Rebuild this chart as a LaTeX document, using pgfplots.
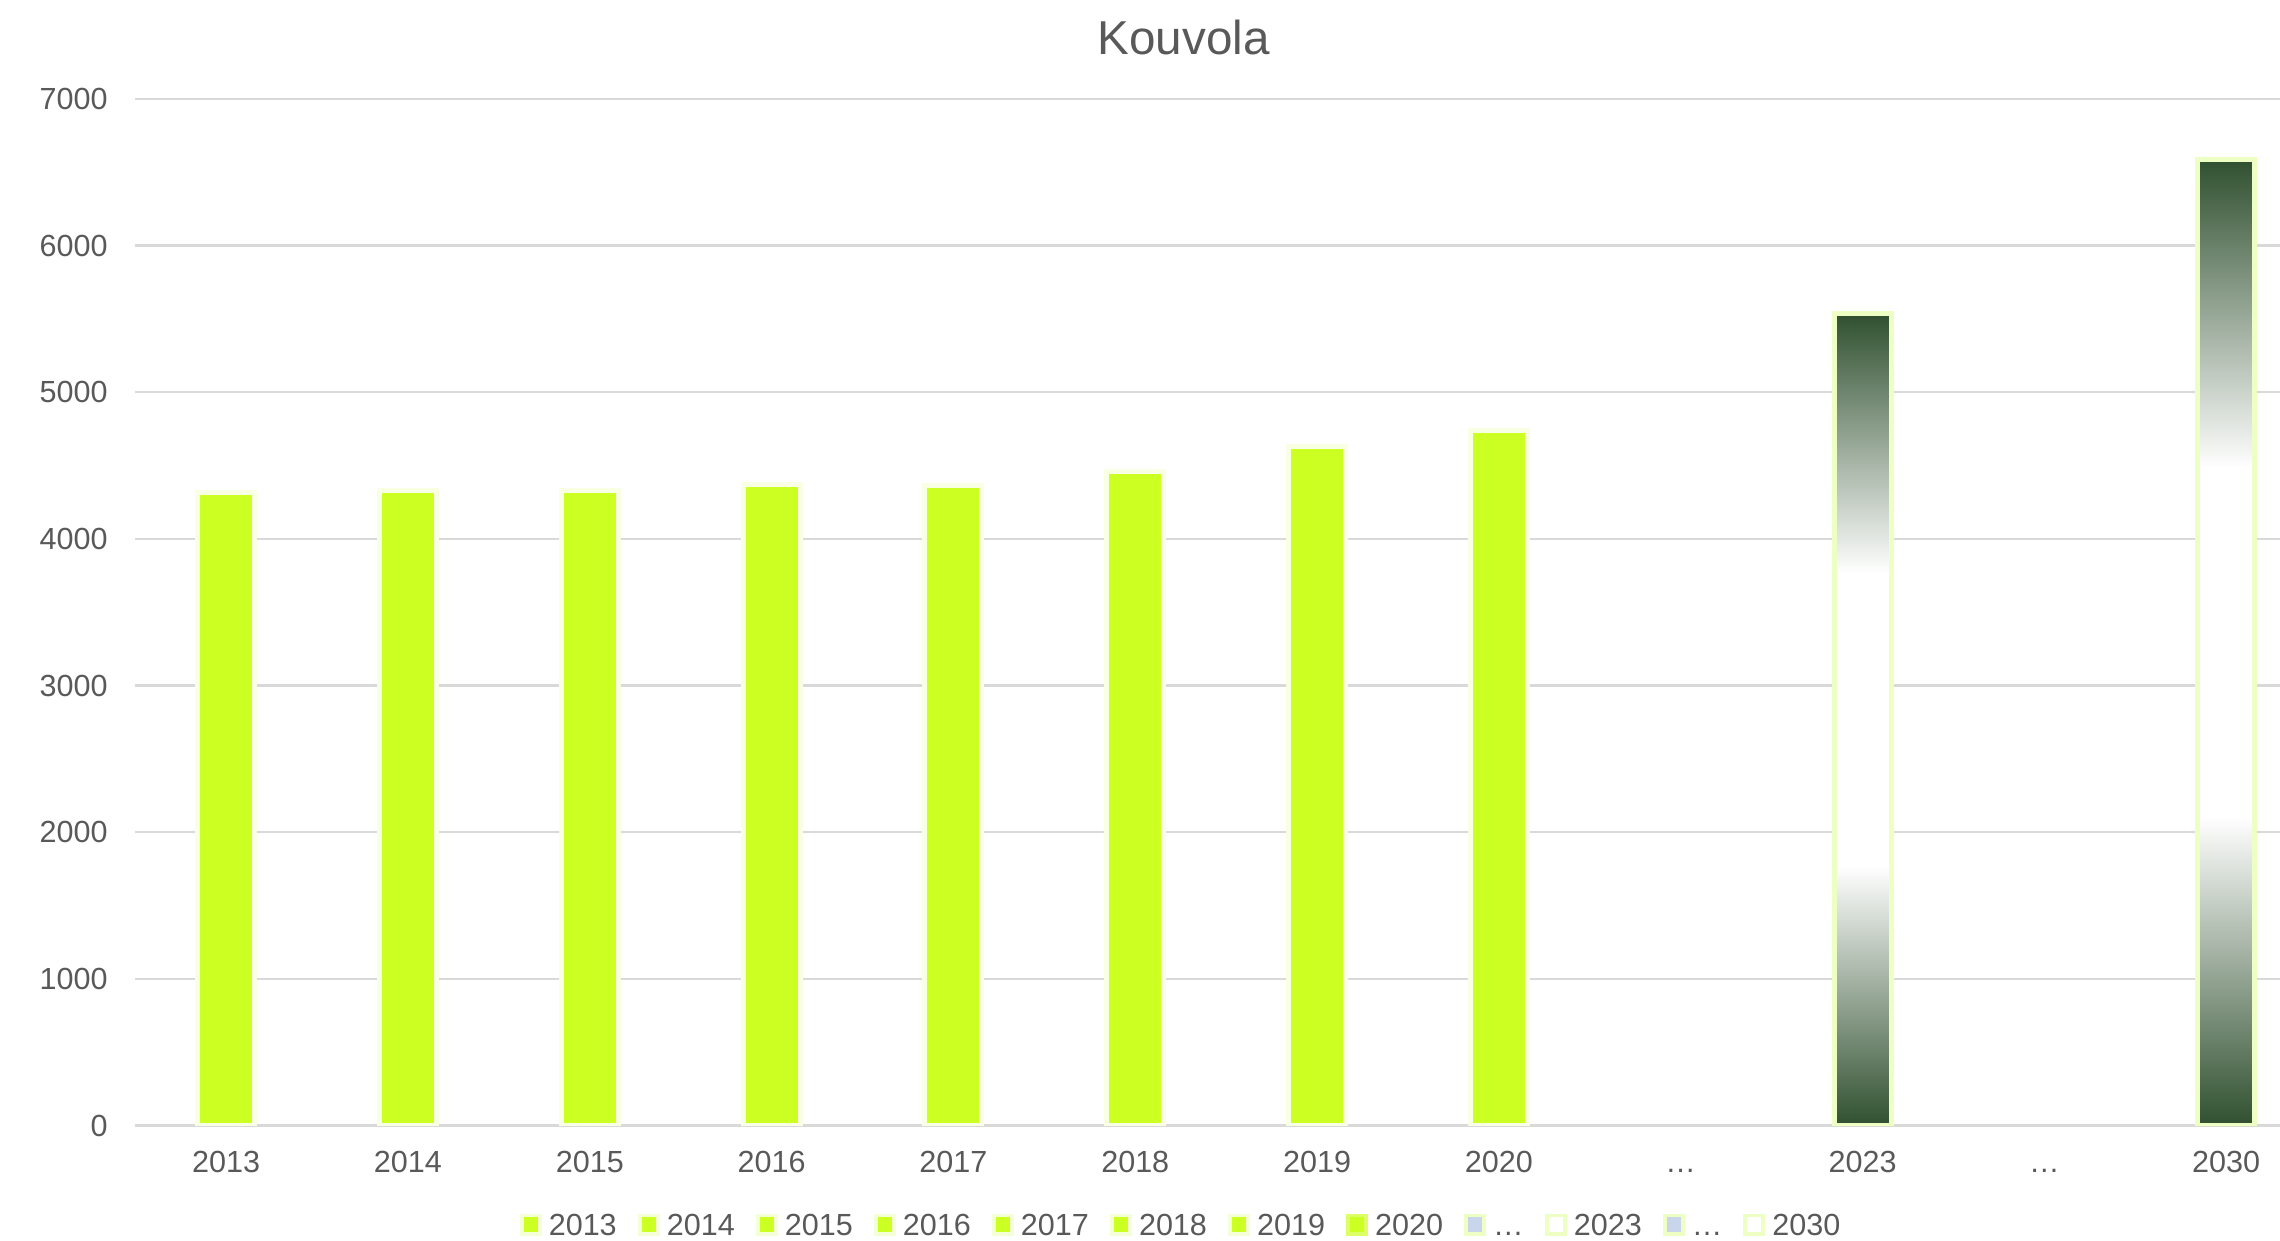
\documentclass[border=0pt]{standalone}
\usepackage{pgfplots}
\pgfplotsset{compat=1.18}
\usepackage{fontspec}
\setmainfont{Liberation Sans}

\definecolor{textgray}{HTML}{595959}
\definecolor{gridgray}{HTML}{D9D9D9}
\definecolor{lime}{HTML}{CCFF22}
\definecolor{limeedge}{HTML}{F8FFE2}
\definecolor{gradedge}{HTML}{EEFFC4}
\definecolor{dkgreen}{RGB}{48,80,48}
\definecolor{dotsblue}{HTML}{C9D5EA}

% dark at the ends, white band in the middle (25bp..75bp = the bar)
\pgfdeclareverticalshading{barshade}{100bp}{color(0bp)=(dkgreen); color(25bp)=(dkgreen); color(41bp)=(white); color(59bp)=(white); color(75bp)=(dkgreen); color(100bp)=(dkgreen)}

\pgfplotsset{
  legsq/.style 2 args={/pgfplots/legend image code/.code={
    \fill[#2] (0pt,-2pt) rectangle (4pt,2pt);
    \fill[#1] (0.8pt,-1.3pt) rectangle (3.2pt,1.3pt);}},
}

\begin{document}
\begin{tikzpicture}
\useasboundingbox (-0.949cm,-0.806cm) rectangle (15.051cm,7.898cm);
\begin{axis}[
    scale only axis,
    width=15.051cm, height=7.204cm,
    xmin=-0.5, xmax=11.296,
    ymin=0, ymax=7000,
    ytick={0,1000,...,7000},
    xtick={0,...,11},
    xticklabels={2013,2014,2015,2016,2017,2018,2019,2020,…,2023,…,2030},
    axis line style={draw=none},
    major tick length=0pt,
    ymajorgrids,
    grid style={gridgray, line width=0.45pt},
    /pgf/number format/1000 sep={},
    /pgf/number format/assume math mode=true,
    ticklabel style={font=\fontsize{6.1}{7}\selectfont, text=textgray},
    yticklabel style={xshift=-2pt},
    xticklabel style={yshift=-1.5pt, text height=4.4pt, text depth=0pt},
    ybar, bar width=0.313, bar shift=0pt,
    legend columns=-1,
    legend style={at={(0.4888,-0.0966)}, anchor=center, draw=none, fill=none,
                  font=\fontsize{6.1}{7}\selectfont, text=textgray,
                  inner sep=0pt,
                  nodes={inner xsep=1.4pt, inner ysep=0pt, text height=4.4pt, text depth=0pt},
                  /tikz/every even column/.append style={column sep=2.8pt}},
]

% mitatut vuodet
\addplot[forget plot, fill=lime, draw=limeedge, line width=1pt] coordinates {(0,4315)};
\addplot[forget plot, fill=lime, draw=limeedge, line width=1pt] coordinates {(1,4333)};
\addplot[forget plot, fill=lime, draw=limeedge, line width=1pt] coordinates {(2,4333)};
\addplot[forget plot, fill=lime, draw=limeedge, line width=1pt] coordinates {(3,4372)};
\addplot[forget plot, fill=lime, draw=limeedge, line width=1pt] coordinates {(4,4362)};
\addplot[forget plot, fill=lime, draw=limeedge, line width=1pt] coordinates {(5,4462)};
\addplot[forget plot, fill=lime, draw=limeedge, line width=1pt] coordinates {(6,4630)};
\addplot[forget plot, fill=lime, draw=limeedge, line width=1pt] coordinates {(7,4739)};
% ennusteet
\addplot[forget plot, shading=barshade, draw=gradedge, line width=1pt] coordinates {(9,5535)};
\addplot[forget plot, shading=barshade, draw=gradedge, line width=1pt] coordinates {(11,6585)};

% legend
\addlegendimage{legsq={lime}{limeedge!60!lime!40}}\addlegendentry{2013}
\addlegendimage{legsq={lime}{limeedge!60!lime!40}}\addlegendentry{2014}
\addlegendimage{legsq={lime}{limeedge!60!lime!40}}\addlegendentry{2015}
\addlegendimage{legsq={lime}{limeedge!60!lime!40}}\addlegendentry{2016}
\addlegendimage{legsq={lime}{limeedge!60!lime!40}}\addlegendentry{2017}
\addlegendimage{legsq={lime}{limeedge!60!lime!40}}\addlegendentry{2018}
\addlegendimage{legsq={lime}{limeedge!60!lime!40}}\addlegendentry{2019}
\addlegendimage{legsq={lime}{lime!70}}\addlegendentry{2020}
\addlegendimage{legsq={dotsblue}{gradedge}}\addlegendentry{…}
\addlegendimage{legsq={white}{gradedge}}\addlegendentry{2023}
\addlegendimage{legsq={dotsblue}{gradedge}}\addlegendentry{…}
\addlegendimage{legsq={white}{gradedge}}\addlegendentry{2030}

\end{axis}
\node[font=\fontsize{9.5}{11}\selectfont, text=textgray, anchor=center]
  at (7.357cm,7.634cm) {Kouvola};
\end{tikzpicture}
\end{document}
